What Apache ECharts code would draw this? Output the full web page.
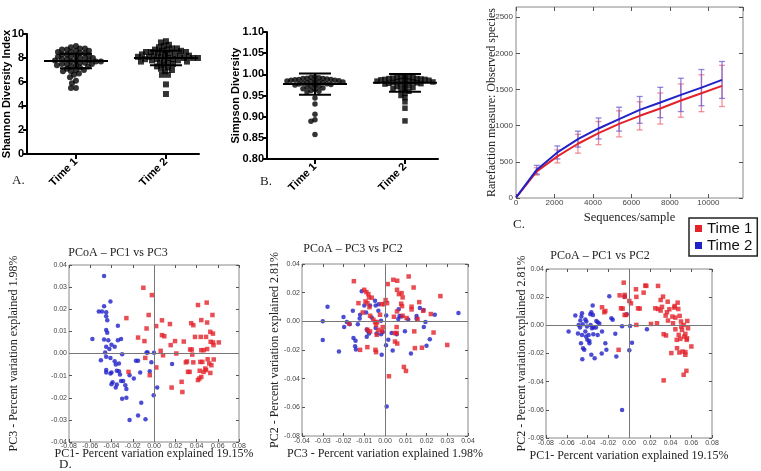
<!DOCTYPE html>
<html>
<head>
<meta charset="utf-8">
<script src="https://cdn.jsdelivr.net/npm/echarts@6/dist/echarts.min.js"></script>
<style>
  html, body { margin: 0; background: #fff; }
  #main { width: 761px; height: 471px; }
</style>
</head>
<body>
<div id="main"></div>
<script>
// ---- data ----
const groups = ['Time 1', 'Time 2']

// A. Shannon diversity per sample
const shannon1 = [9.0, 8.9, 8.8, 8.8, 8.7, 8.7, 8.6, 8.6, 8.5, 8.5, 8.4, 8.4, 8.3, 8.3, 8.2, 8.2, 8.1, 8.1, 8.0, 8.0, 8.0, 7.9, 7.9, 7.8, 7.8, 7.8, 7.7, 7.7, 7.7, 7.6, 7.6, 7.5, 7.5, 7.5, 7.4, 7.4, 7.3, 7.3, 7.2, 7.1, 7.0, 7.0, 6.9, 6.9, 6.7, 6.6, 6.4, 6.1, 5.9, 5.5, 5.5]
const shannon2 = [9.4, 9.3, 9.1, 9.0, 8.9, 8.8, 8.8, 8.7, 8.7, 8.6, 8.6, 8.5, 8.5, 8.5, 8.4, 8.4, 8.3, 8.3, 8.3, 8.2, 8.2, 8.2, 8.1, 8.1, 8.1, 8.0, 8.0, 8.0, 8.0, 7.9, 7.9, 7.9, 7.8, 7.8, 7.8, 7.7, 7.7, 7.6, 7.6, 7.5, 7.4, 7.3, 7.2, 7.1, 7.0, 6.9, 6.6, 6.6, 5.8, 5.0]
const shannonStats = [[7.75, 0.6], [8.0, 0.6]]   // mean, sd

// B. Simpson diversity per sample
const simpson1 = [0.994, 0.993, 0.992, 0.991, 0.990, 0.990, 0.989, 0.988, 0.988, 0.987, 0.986, 0.986, 0.985, 0.984, 0.984, 0.983, 0.982, 0.982, 0.981, 0.980, 0.979, 0.978, 0.977, 0.976, 0.975, 0.974, 0.973, 0.972, 0.970, 0.968, 0.966, 0.964, 0.962, 0.960, 0.958, 0.944, 0.930, 0.906, 0.893, 0.889, 0.858]
const simpson2 = [0.996, 0.995, 0.994, 0.993, 0.992, 0.991, 0.990, 0.990, 0.989, 0.988, 0.988, 0.987, 0.986, 0.986, 0.985, 0.984, 0.984, 0.983, 0.982, 0.982, 0.981, 0.980, 0.979, 0.978, 0.977, 0.976, 0.975, 0.973, 0.971, 0.969, 0.967, 0.965, 0.963, 0.960, 0.955, 0.950, 0.945, 0.935, 0.920, 0.890]
const simpsonStats = [[0.977, 0.025], [0.980, 0.021]]

// C. rarefaction
const depth = [10, 1080, 2150, 3220, 4290, 5360, 6430, 7500, 8570, 9640, 10710]
const obs1 = [9, 368, 575, 750, 897, 1025, 1136, 1237, 1347, 1448, 1549]
const obs1Sd = [0, 50, 90, 130, 160, 180, 195, 215, 230, 255, 285]
const obs2 = [9, 391, 630, 814, 961, 1090, 1218, 1320, 1425, 1526, 1632]
const obs2Sd = [0, 60, 90, 110, 145, 165, 185, 210, 230, 250, 255]

// D. PCoA coordinates
const pc13Red = [[-0.010,0.0297],[-0.002,0.0264],[-0.026,0.016],[-0.005,0.0174],[0.0075,0.015],[0.002,0.0124],[0.015,0.0133],[-0.007,0.0113],[-0.015,0.0072],[-0.009,0.0056],[0.0075,0.0083],[0.0097,0.0078],[0.0157,0.0038],[0.0198,0.0056],[0.0063,0.0012],[0.0085,-0.0008],[-0.0082,-0.002],[0.021,0.000],[0.028,0.0054],[0.034,0.0018],[0.0355,0.0018],[0.036,-0.0005],[0.031,-0.0036],[0.030,-0.004],[0.037,-0.004],[0.032,-0.0083],[0.0335,-0.0083],[0.035,0.0137],[0.037,0.0128],[0.0414,0.0219],[0.0496,0.023],[0.0445,0.0151],[0.050,0.014],[0.055,0.0174],[0.0386,0.0075],[0.044,0.0075],[0.049,0.0075],[0.053,0.0098],[0.0555,0.009],[0.0533,0.0053],[0.0555,0.005],[0.061,0.005],[0.056,0.0038],[0.0445,0.0015],[0.0467,0.0015],[0.050,0.002],[0.0436,-0.0038],[0.0455,-0.0038],[0.0505,-0.0026],[0.052,-0.0045],[0.0562,-0.0027],[0.054,-0.0053],[0.043,-0.0078],[0.0467,-0.0083],[0.049,-0.0075],[0.0483,-0.0068],[0.053,-0.0088],[0.0445,-0.0106],[0.0414,-0.012],[0.0427,-0.0113],[0.026,-0.0128],[0.0267,-0.0174],[0.0166,-0.0154],[0.0022,-0.0063],[-0.004,-0.0098],[-0.024,-0.0083]]
const pc13Blue = [[-0.047,0.035],[-0.041,0.0235],[-0.047,0.0214],[-0.052,0.019],[-0.049,0.019],[-0.045,0.0186],[-0.045,0.0168],[-0.044,0.015],[-0.045,0.0106],[-0.044,0.0094],[-0.034,0.0125],[-0.058,0.0065],[-0.047,0.0063],[-0.043,0.006],[-0.034,0.006],[-0.031,0.0065],[-0.040,0.004],[-0.045,0.003],[-0.037,0.003],[-0.042,0.002],[-0.046,0.0005],[-0.045,-0.0015],[-0.050,-0.003],[-0.041,-0.002],[-0.037,-0.0035],[-0.030,-0.0003],[-0.033,-0.0045],[-0.036,-0.005],[-0.045,-0.0075],[-0.045,-0.0086],[-0.040,-0.0086],[-0.035,-0.0078],[-0.033,-0.008],[-0.041,-0.009],[-0.032,-0.0095],[-0.017,-0.0033],[-0.015,-0.0033],[-0.023,-0.0098],[-0.019,-0.0113],[-0.013,-0.0086],[-0.007,0.0005],[-0.006,0.0005],[-0.0025,-0.004],[-0.004,-0.008],[0.000,0.0003],[0.017,-0.0048],[-0.039,-0.013],[-0.035,-0.014],[-0.031,-0.0124],[-0.029,-0.0124],[-0.040,-0.0139],[-0.036,-0.0154],[-0.027,-0.0143],[-0.026,-0.016],[-0.030,-0.0204],[-0.026,-0.02],[-0.012,-0.0223],[-0.0003,-0.0189],[0.003,-0.0154],[-0.015,-0.028],[-0.023,-0.030],[-0.008,-0.0297]]

const pc32Red = [[-0.015,0.028],[-0.0173,-0.0015],[-0.0128,0.0127],[-0.012,-0.0199],[-0.010,0.022],[-0.009,0.0204],[-0.008,0.019],[-0.0077,0.0167],[-0.0064,0.0165],[-0.0094,0.0139],[-0.0085,0.0127],[-0.0075,0.0099],[-0.0107,0.0062],[-0.0072,0.0039],[-0.0085,-0.0059],[-0.0072,-0.007],[-0.0085,-0.018],[-0.0056,0.0011],[-0.0048,-0.0005],[-0.0038,-0.0005],[-0.0043,-0.0024],[-0.0032,-0.0059],[-0.004,-0.0094],[-0.0046,-0.0199],[-0.0043,-0.0215],[-0.0024,0.0046],[-0.0016,0.012],[-0.0005,0.012],[0.0003,0.0148],[0.001,0.0127],[-0.0011,-0.004],[-0.0014,-0.007],[0.0013,0.026],[0.0019,-0.0383],[0.004,0.029],[0.0059,0.0283],[0.0058,0.022],[0.0067,0.019],[0.008,0.0197],[0.0085,0.0167],[0.0078,0.0123],[0.0082,0.0106],[0.0058,0.0069],[0.0043,0.0032],[0.0056,-0.004],[0.0048,-0.0082],[0.0056,-0.0082],[0.0048,-0.0141],[0.0059,-0.0155],[0.0114,0.0313],[0.0138,0.0236],[0.0128,0.0102],[0.0128,0.0083],[0.0085,0.0039],[0.0141,-0.007],[0.0144,-0.0187],[0.0157,0.0016],[0.0165,0.0134],[0.0178,-0.0184],[0.0184,0.0074],[0.0091,-0.0318],[0.0101,-0.0346],[0.0221,0.0051],[0.0234,-0.0078],[0.0267,0.0176],[0.030,-0.0165],[0.0104,0.0023]]
const pc32Blue = [[-0.0277,0.0102],[-0.030,0.000],[-0.030,-0.0131],[-0.0222,-0.021],[-0.020,0.003],[-0.0197,-0.004],[-0.0184,-0.0005],[-0.017,-0.002],[-0.0155,0.0074],[-0.0152,-0.0117],[-0.0144,-0.0173],[-0.014,-0.0197],[-0.0142,-0.0135],[-0.0131,-0.0021],[-0.012,0.0046],[-0.0122,0.002],[-0.0112,0.021],[-0.010,0.011],[-0.0091,0.0062],[-0.0088,-0.0057],[-0.0083,-0.0066],[-0.0077,-0.0085],[-0.0088,-0.0108],[-0.0072,0.011],[-0.0064,0.0027],[-0.0045,0.011],[-0.0048,0.0143],[-0.0045,-0.0047],[-0.004,-0.0085],[-0.003,0.012],[-0.0032,0.0074],[-0.0019,0.0004],[-0.0019,-0.009],[-0.0016,-0.0233],[-0.0011,-0.0075],[0.0006,0.0041],[0.0005,-0.0166],[0.0016,-0.0128],[0.0008,-0.0595],[0.0032,-0.0082],[0.0037,-0.0204],[0.0056,-0.009],[0.0064,0.0016],[0.0066,0.0085],[0.007,0.0037],[0.008,0.0034],[0.0096,-0.007],[0.0112,0.0013],[0.0125,-0.0224],[0.0152,0.0037],[0.0152,0.0018],[0.0168,0.0093],[0.0186,0.0079],[0.0187,-0.004],[0.0195,-0.0005],[0.020,-0.0171],[0.0216,-0.0125],[0.024,0.0046],[0.0354,0.0058]]

const pc12Red = [[-0.026,0.0128],[-0.0238,0.0093],[-0.0228,0.0102],[-0.010,-0.0174],[-0.009,0.0213],[-0.0077,0.0121],[-0.0061,0.0119],[-0.0051,0.0303],[-0.0042,0.0216],[-0.0042,0.0202],[-0.0042,0.0074],[-0.0029,0.0074],[0.0003,0.0173],[0.0019,0.0156],[0.0067,0.0256],[0.0071,0.0202],[0.0087,0.0121],[0.0103,0.0119],[0.0071,0.0003],[0.0141,0.0232],[0.0157,0.0282],[0.0167,0.028],[0.0212,0.001],[0.028,0.028],[0.0254,0.0121],[0.027,0.0015],[0.028,0.0116],[0.0305,0.018],[0.0328,0.0204],[0.0305,0.0105],[0.0318,0.0131],[0.0334,-0.0063],[0.0357,-0.0072],[0.0373,0.0168],[0.0353,0.0069],[0.0366,0.0093],[0.0389,0.0114],[0.0376,0.0034],[0.0334,-0.0391],[0.0408,-0.0197],[0.0418,0.0062],[0.0424,0.0015],[0.0437,0.0126],[0.044,0.0137],[0.0447,0.0055],[0.046,-0.0103],[0.0469,0.0161],[0.0463,-0.0162],[0.0475,0.0116],[0.0479,-0.0068],[0.0488,0.0067],[0.0485,-0.0193],[0.0495,-0.0096],[0.0501,0.0027],[0.0504,-0.0009],[0.0511,-0.0032],[0.0517,-0.0186],[0.0527,-0.0351],[0.0533,-0.008],[0.0543,-0.0061],[0.0543,-0.019],[0.0543,-0.0209],[0.0553,-0.0323],[0.0556,-0.0103],[0.0559,-0.0092],[0.0562,0.0031],[0.0569,-0.0021],[0.0601,-0.015],[0.0527,0.0003],[0.0447,-0.0028]]
const pc12Blue = [[-0.0582,-0.0044],[-0.0517,0.0069],[-0.0492,-0.0058],[-0.0485,0.0003],[-0.0469,0.0034],[-0.0459,0.0062],[-0.0453,0.0086],[-0.0472,-0.0016],[-0.0447,0.0008],[-0.0453,-0.0068],[-0.0463,-0.0127],[-0.0443,-0.0162],[-0.0431,-0.0174],[-0.045,-0.024],[-0.0421,0.0041],[-0.0411,0.0027],[-0.0405,-0.0009],[-0.0421,-0.0044],[-0.0414,-0.008],[-0.0402,-0.0103],[-0.0389,-0.0068],[-0.0382,-0.0111],[-0.0382,-0.0127],[-0.0373,0.0079],[-0.0363,0.0093],[-0.035,0.014],[-0.0347,0.0074],[-0.037,0.0003],[-0.0357,-0.002],[-0.0363,-0.0209],[-0.0344,-0.0063],[-0.0341,-0.0016],[-0.0318,-0.0016],[-0.0331,-0.0233],[-0.0315,0.0031],[-0.0302,0.0022],[-0.0286,0.0013],[-0.0302,-0.0068],[-0.026,-0.0044],[-0.0263,-0.02],[-0.0218,-0.0174],[-0.0228,-0.0127],[-0.019,0.0206],[-0.017,0.005],[-0.0157,0.0039],[-0.0132,-0.006],[-0.0122,-0.0221],[-0.0067,-0.0007],[-0.0042,0.0204],[-0.0022,0.0079],[0.0003,-0.0177],[0.001,-0.0004],[0.0029,-0.0124],[-0.0067,-0.0602],[0.0173,-0.0027]]

// ---- layout ----
const sans = 'Liberation Sans'
const serif = 'Liberation Serif'
const red = '#e3222a'
const blue = '#2121c8'
const grids = [
  { left: 27, top: 34, width: 172, height: 120 },     // A
  { left: 267, top: 32, width: 171, height: 127 },    // B
  { left: 516, top: 7, width: 227, height: 191 },     // C
  { left: 69, top: 265, width: 170, height: 177 },    // D1
  { left: 302, top: 264, width: 166, height: 172 },   // D2
  { left: 546, top: 269, width: 166, height: 169 }    // D3
]
grids.forEach(function (g, i) {
  g.outerBoundsMode = 'none'
  if (i >= 2) { g.show = true; g.borderColor = '#888'; g.borderWidth = 1 }
})

// beeswarm: place each point as close to the centre as possible, allowing some overlap
function swarm(values, center, pxPerUnit, d) {
  let placed = []
  return values.map(function (v) {
    let y = v * pxPerUnit
    let off = 0
    for (let k = 0; k < 400; k++) {
      let cand = (k % 2 ? -1 : 1) * Math.ceil(k / 2)
      let ok = placed.every(function (p) {
        return (p[0] - cand) * (p[0] - cand) + (p[1] - y) * (p[1] - y) >= d * d
      })
      if (ok) { off = cand; break }
    }
    placed.push([off, y])
    return [center + off / 90, v]
  })
}

function meanSdItem(params, api) {
  let x = api.value(0), m = api.value(1), s = api.value(2)
  let c = api.coord([x, m])
  let hi = api.coord([x, m + s])
  let lo = api.coord([x, m - s])
  let st = { stroke: '#000', lineWidth: 2 }
  return {
    type: 'group', children: [
      { type: 'line', shape: { x1: c[0] - 32, y1: c[1], x2: c[0] + 32, y2: c[1] }, style: st },
      { type: 'line', shape: { x1: c[0] - 16, y1: hi[1], x2: c[0] + 16, y2: hi[1] }, style: st },
      { type: 'line', shape: { x1: c[0] - 16, y1: lo[1], x2: c[0] + 16, y2: lo[1] }, style: st },
      { type: 'line', shape: { x1: c[0], y1: hi[1], x2: c[0], y2: lo[1] }, style: st }
    ]
  }
}

function errItem(color) {
  return function (params, api) {
    let x = api.value(0)
    let lo = api.coord([x, api.value(1)])
    let hi = api.coord([x, api.value(2)])
    let st = { stroke: color, lineWidth: 1.3 }
    return {
      type: 'group', children: [
        { type: 'line', shape: { x1: lo[0], y1: lo[1], x2: hi[0], y2: hi[1] }, style: st },
        { type: 'line', shape: { x1: lo[0] - 3, y1: lo[1], x2: lo[0] + 3, y2: lo[1] }, style: st },
        { type: 'line', shape: { x1: hi[0] - 3, y1: hi[1], x2: hi[0] + 3, y2: hi[1] }, style: st }
      ]
    }
  }
}

// Prism style axes (A, B)
function prismX(grid, min, max) {
  return {
    gridIndex: grid, type: 'value', min: min, max: max,
    axisLine: { show: true, onZero: false, lineStyle: { color: '#000', width: 2 } },
    axisTick: { show: true, customValues: [0, 1], length: 5, lineStyle: { color: '#000', width: 2 } },
    axisLabel: {
      customValues: [0, 1], rotate: 45, margin: 6, formatter: function (v) { return groups[Math.round(v)] },
      fontFamily: sans, fontWeight: 'bold', fontSize: 11, color: '#000'
    },
    splitLine: { show: false }
  }
}
function prismY(grid, min, max, step, digits, name, gap) {
  return {
    gridIndex: grid, type: 'value', min: min, max: max, interval: step,
    axisLine: { show: true, onZero: false, lineStyle: { color: '#000', width: 2 } },
    axisTick: { show: true, length: 4, lineStyle: { color: '#000', width: 2 } },
    axisLabel: {
      margin: 3, formatter: function (v) { return v.toFixed(digits) },
      fontFamily: sans, fontWeight: 'bold', fontSize: 11, color: '#000'
    },
    splitLine: { show: false },
    name: name, nameLocation: 'middle', nameGap: gap, nameMoveOverlap: false,
    nameTextStyle: { fontFamily: sans, fontWeight: 'bold', fontSize: 11, color: '#000' }
  }
}

// matplotlib style boxed axes (C, D)
function boxAxis(grid, min, max, step, opts) {
  return {
    gridIndex: grid, type: 'value', min: min, max: max, interval: step,
    position: opts.position,
    axisLine: { show: false, onZero: false },
    axisTick: { show: true, inside: true, length: opts.tick || 3, lineStyle: { color: '#555' } },
    axisLabel: {
      show: !opts.mirror, margin: opts.margin === undefined ? 3 : opts.margin, showMaxLabel: opts.maxLabel !== false,
      fontFamily: sans, fontSize: opts.fs || 7, color: '#444',
      formatter: opts.fmt || function (v) { return (Math.abs(v) < 1e-9 ? 0 : v).toFixed(2) }
    },
    splitLine: { show: false },
    name: opts.mirror ? '' : opts.name, nameLocation: 'middle', nameGap: opts.gap, nameMoveOverlap: false,
    nameTextStyle: { fontFamily: serif, fontSize: opts.nfs || 12, color: '#222' }
  }
}

const intFmt = function (v) { return String(Math.round(v)) }

let xAxes = [
  prismX(0, -0.544, 1.367),
  prismX(1, -0.533, 1.367),
  boxAxis(2, 0, 11800, 2000, { name: 'Sequences/sample', gap: 13, fs: 8, tick: 4, nfs: 12.5, maxLabel: false, fmt: intFmt, margin: 1 }),
  boxAxis(3, -0.08, 0.08, 0.02, { name: 'PC1- Percent variation explained 19.15%', gap: 6, margin: 1 }),
  boxAxis(4, -0.04, 0.04, 0.01, { name: 'PC3 - Percent variation explained 1.98%', gap: 12, margin: 1.5 }),
  boxAxis(5, -0.08, 0.08, 0.02, { name: 'PC1- Percent variation explained 19.15%', gap: 12, margin: 1.5 }),
  // mirrored tick axes on top
  boxAxis(2, 0, 11800, 2000, { mirror: true, position: 'top', tick: 4 }),
  boxAxis(3, -0.08, 0.08, 0.02, { mirror: true, position: 'top' }),
  boxAxis(4, -0.04, 0.04, 0.01, { mirror: true, position: 'top' }),
  boxAxis(5, -0.08, 0.08, 0.02, { mirror: true, position: 'top' })
]
let yAxes = [
  prismY(0, 0, 10, 2, 0, 'Shannon Diversity Index', 15),
  prismY(1, 0.8, 1.1, 0.05, 2, 'Simpson Diversity', 26),
  boxAxis(2, 0, 2640, 500, { name: 'Rarefaction measure: Observed species', gap: 18, fs: 8, tick: 4, nfs: 12, maxLabel: false, fmt: intFmt }),
  boxAxis(3, -0.04, 0.04, 0.01, { name: 'PC3 - Percent variation explained 1.98%', gap: 49, margin: 2 }),
  boxAxis(4, -0.08, 0.04, 0.02, { name: 'PC2 - Percent variation explained 2.81%', gap: 21, margin: 2 }),
  boxAxis(5, -0.08, 0.04, 0.02, { name: 'PC2 - Percent variation explained 2.81%', gap: 18, margin: 2 }),
  boxAxis(2, 0, 2640, 500, { mirror: true, position: 'right', tick: 4 }),
  boxAxis(3, -0.04, 0.04, 0.01, { mirror: true, position: 'right' }),
  boxAxis(4, -0.08, 0.04, 0.02, { mirror: true, position: 'right' }),
  boxAxis(5, -0.08, 0.04, 0.02, { mirror: true, position: 'right' })
]

let series = []

// A & B dot plots
function dotPlot(axis, v1, v2, stats, pxPerUnit, size, gap) {
  series.push({
    type: 'scatter', name: 'dots 1 ' + axis, xAxisIndex: axis, yAxisIndex: axis,
    symbol: 'circle', symbolSize: size, itemStyle: { color: '#000' },
    data: swarm(v1, 0, pxPerUnit, gap)
  })
  series.push({
    type: 'scatter', name: 'dots 2 ' + axis, xAxisIndex: axis, yAxisIndex: axis,
    symbol: 'rect', symbolSize: size, itemStyle: { color: '#000' },
    data: swarm(v2, 1, pxPerUnit, gap)
  })
  series.push({
    type: 'custom', name: 'mean sd ' + axis, xAxisIndex: axis, yAxisIndex: axis, z: 5,
    renderItem: meanSdItem,
    data: stats.map(function (s, i) { return [i, s[0], s[1]] })
  })
}
dotPlot(0, shannon1, shannon2, shannonStats, 120 / 10, 6, 4.5)
dotPlot(1, simpson1, simpson2, simpsonStats, 127 / 0.3, 5.5, 4)

// C rarefaction
function bars(mean, sd) {
  return depth.map(function (d, i) { return [d, mean[i] - sd[i], mean[i] + sd[i]] }).filter(function (r, i) { return sd[i] > 0 })
}
series.push({
  type: 'custom', name: 'err 1', xAxisIndex: 2, yAxisIndex: 2,
  renderItem: errItem('rgba(236,110,120,0.75)'), data: bars(obs1, obs1Sd)
})
series.push({
  type: 'custom', name: 'err 2', xAxisIndex: 2, yAxisIndex: 2,
  renderItem: errItem('rgba(110,90,210,0.75)'), data: bars(obs2, obs2Sd)
})
series.push({
  type: 'line', name: 'Time 1', xAxisIndex: 2, yAxisIndex: 2, showSymbol: false,
  itemStyle: { color: red }, lineStyle: { color: red, width: 2 },
  data: depth.map(function (d, i) { return [d, obs1[i]] })
})
series.push({
  type: 'line', name: 'Time 2', xAxisIndex: 2, yAxisIndex: 2, showSymbol: false,
  itemStyle: { color: blue }, lineStyle: { color: blue, width: 2 },
  data: depth.map(function (d, i) { return [d, obs2[i]] })
})

// D PCoA scatters
function pcoa(axis, redPts, bluePts) {
  series.push({
    type: 'scatter', name: 'Time 2', xAxisIndex: axis, yAxisIndex: axis,
    symbol: 'circle', symbolSize: 4.5, itemStyle: { color: blue }, data: bluePts,
    markLine: {
      silent: true, symbol: 'none', label: { show: false },
      lineStyle: { color: '#777', width: 1, type: 'solid' },
      data: [{ xAxis: 0 }, { yAxis: 0 }]
    }
  })
  series.push({
    type: 'scatter', name: 'Time 1', xAxisIndex: axis, yAxisIndex: axis,
    symbol: 'rect', symbolSize: 4.5, itemStyle: { color: red }, data: redPts
  })
}
pcoa(3, pc13Red, pc13Blue)
pcoa(4, pc32Red, pc32Blue)
pcoa(5, pc12Red, pc12Blue)

function label(text, x, y, font, align) {
  return {
    type: 'text', x: x, y: y,
    style: { text: text, font: font, fill: '#222', align: align || 'center', verticalAlign: 'middle', textAlign: align || 'center', textVerticalAlign: 'middle' }
  }
}

let mychart = echarts.init(document.getElementById('main'))
let option = {
  animation: false,
  backgroundColor: '#fff',
  grid: grids,
  xAxis: xAxes,
  yAxis: yAxes,
  legend: {
    data: ['Time 1', 'Time 2'],
    orient: 'vertical', left: 689, top: 218,
    icon: 'rect', itemWidth: 7, itemHeight: 7, itemGap: 2,
    padding: [3, 5, 3, 6],
    borderColor: '#222', borderWidth: 1.5,
    textStyle: { fontFamily: sans, fontSize: 15, color: '#111' }
  },
  graphic: [
    label('A.', 12, 181, '13px "Liberation Serif"', 'left'),
    label('B.', 260, 182, '13px "Liberation Serif"', 'left'),
    label('C.', 513, 225, '13px "Liberation Serif"', 'left'),
    label('D.', 59, 465, '13px "Liberation Serif"', 'left'),
    label('PCoA \u2013 PC1 vs PC3', 118, 253, '12px "Liberation Serif"'),
    label('PCoA \u2013 PC3 vs PC2', 353, 249, '12px "Liberation Serif"'),
    label('PCoA \u2013 PC1 vs PC2', 600, 256, '12px "Liberation Serif"')
  ],
  series: series
}
mychart.setOption(option)
window.addEventListener('resize', function () {
  mychart.resize()
})
</script>
</body>
</html>
